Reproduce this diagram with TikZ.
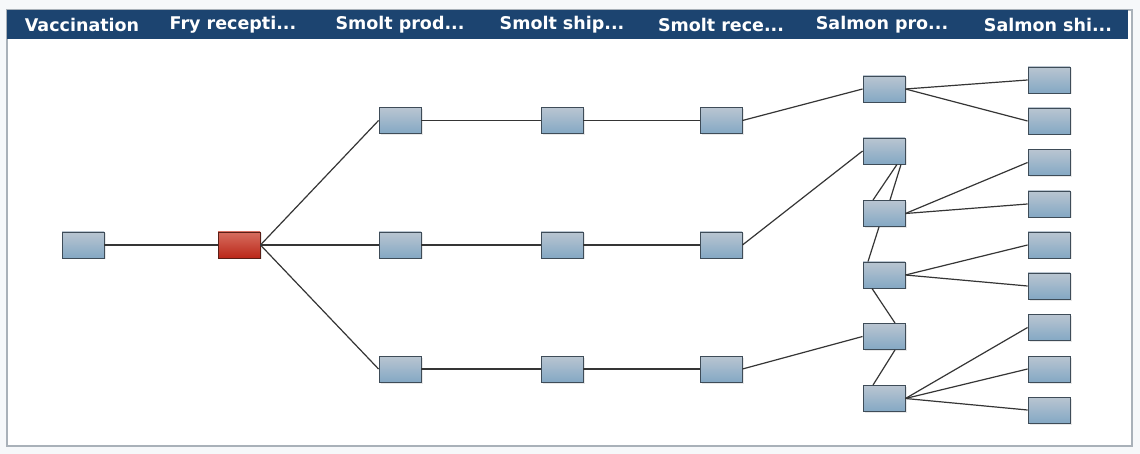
\documentclass[tikz,border=0pt]{standalone}
\usepackage{fontspec}
\newfontfamily\hdrfont{DejaVu Sans}
\usetikzlibrary{shadows,calc}
\definecolor{bgc}{HTML}{F6F8FA}
\definecolor{panelb}{HTML}{A9B1B9}
\definecolor{hdrc}{HTML}{1C4470}
\definecolor{nTop}{HTML}{B9C5D1}
\definecolor{nBot}{HTML}{84A8C4}
\definecolor{nEdge}{HTML}{3E4C58}
\definecolor{rTop}{HTML}{D66E5F}
\definecolor{rBot}{HTML}{BB2719}
\definecolor{rEdge}{HTML}{5A1E16}
\definecolor{lnc}{HTML}{353535}
\tikzset{
  box/.style={rectangle, minimum width=42pt, minimum height=26pt, inner sep=0pt,
    draw=nEdge, line width=0.9pt, top color=nTop, bottom color=nBot,
    drop shadow={shadow xshift=1.5pt, shadow yshift=-1.5pt, opacity=0.18}},
  redbox/.style={box, draw=rEdge, top color=rTop, bottom color=rBot},
  hdr/.style={text=white, font=\hdrfont\bfseries\fontsize{17.5}{20}\selectfont, inner sep=0pt, anchor=center},
  link/.style={draw=lnc, line width=1.2pt}
}
\begin{document}
\begin{tikzpicture}[x=1pt,y=-1pt]
\fill[bgc] (0,0) rectangle (1140,454);
\useasboundingbox (0,0) rectangle (1140,454);
\draw[fill=white, draw=panelb, line width=1.5pt] (7,10) rectangle (1132,446);
\fill[hdrc] (7,10) rectangle (1128,39);
% headers
\node[hdr] (h1) at (82,24.5) {Vaccination};
\node[hdr] (h2) at (233,24.5) {Fry recepti...};
\node[hdr] (h3) at (400,24.5) {Smolt prod...};
\node[hdr] (h4) at (562,24.5) {Smolt ship...};
\node[hdr] (h5) at (721,24.5) {Smolt rece...};
\node[hdr] (h6) at (882,24.5) {Salmon pro...};
\node[hdr] (h7) at (1048,24.5) {Salmon shi...};
% nodes
\node[box] (vac) at (83,245) {};
\node[redbox] (fry) at (239,245) {};
\node[box] (sp1) at (400,120.5) {};
\node[box] (sp2) at (400,245) {};
\node[box] (sp3) at (400,369) {};
\node[box] (ss1) at (562,120.5) {};
\node[box] (ss2) at (562,245) {};
\node[box] (ss3) at (562,369) {};
\node[box] (sr1) at (721,120.5) {};
\node[box] (sr2) at (721,245) {};
\node[box] (sr3) at (721,369) {};
\node[box] (p1) at (884,89) {};
\node[box] (p2) at (884,151) {};
\node[box] (p3) at (884,213.5) {};
\node[box] (p4) at (884,275) {};
\node[box] (p5) at (884,336.5) {};
\node[box] (p6) at (884,398.5) {};
\node[box] (q1) at (1049,80) {};
\node[box] (q2) at (1049,121) {};
\node[box] (q3) at (1049,162.5) {};
\node[box] (q4) at (1049,204) {};
\node[box] (q5) at (1049,245) {};
\node[box] (q6) at (1049,286) {};
\node[box] (q7) at (1049,327.5) {};
\node[box] (q8) at (1049,369) {};
\node[box] (q9) at (1049,410) {};
% links
\draw[link] (vac.east) -- (fry.west);
\draw[link] (fry.east) -- (sp1.west);
\draw[link] (fry.east) -- (sp2.west);
\draw[link] (fry.east) -- (sp3.west);
\draw[link] (sp1.east) -- (ss1.west);
\draw[link] (sp2.east) -- (ss2.west);
\draw[link] (sp3.east) -- (ss3.west);
\draw[link] (ss1.east) -- (sr1.west);
\draw[link] (ss2.east) -- (sr2.west);
\draw[link] (ss3.east) -- (sr3.west);
\draw[link] (sr1.east) -- (p1.west);
\draw[link] (sr2.east) -- (p2.west);
\draw[link] (sr3.east) -- (p5.west);
\draw[link] ([xshift=13pt]p2.south) -- ([xshift=-11pt]p3.north);
\draw[link] ([xshift=17pt]p2.south) -- ([xshift=6pt]p3.north);
\draw[link] ([xshift=-5pt]p3.south) -- ([xshift=-16pt]p4.north);
\draw[link] ([xshift=-12pt]p4.south) -- ([xshift=11pt]p5.north);
\draw[link] ([xshift=11pt]p5.south) -- ([xshift=-11pt]p6.north);
\draw[link] (p1.east) -- (q1.west);
\draw[link] (p1.east) -- (q2.west);
\draw[link] (p3.east) -- (q3.west);
\draw[link] (p3.east) -- (q4.west);
\draw[link] (p4.east) -- (q5.west);
\draw[link] (p4.east) -- (q6.west);
\draw[link] (p6.east) -- (q7.west);
\draw[link] (p6.east) -- (q8.west);
\draw[link] (p6.east) -- (q9.west);
\end{tikzpicture}
\end{document}
